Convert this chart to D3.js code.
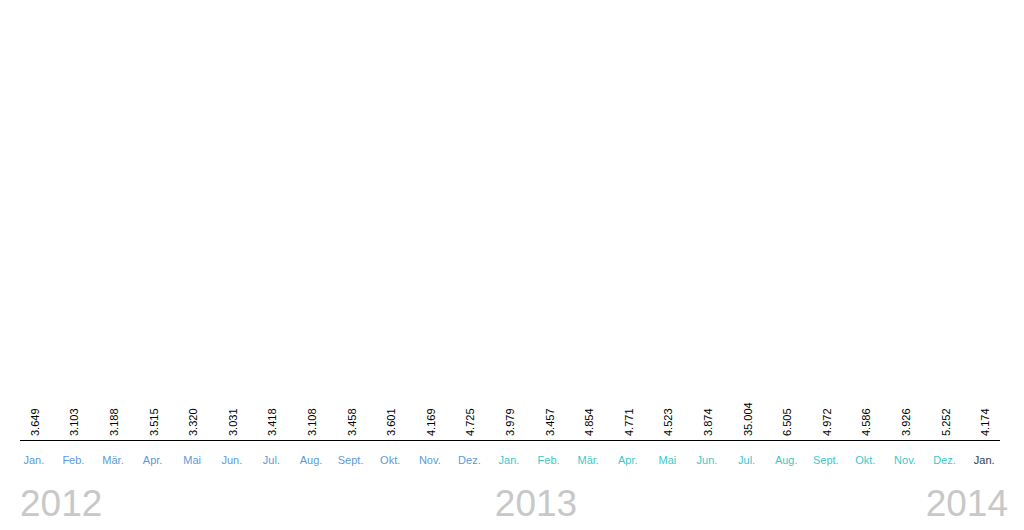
<!DOCTYPE html>
<html>
<head>
<meta charset="utf-8">
<script src="https://cdn.jsdelivr.net/npm/d3@7"></script>
<style>
  body { margin: 0; background: #fff; }
  text { font-family: "Liberation Sans", Arial, sans-serif; }
</style>
</head>
<body>
<div id="chart"></div>
<script>
// months, Jan 2012 .. Jan 2014
var months = ["Jan.", "Feb.", "Mär.", "Apr.", "Mai", "Jun.", "Jul.", "Aug.", "Sept.", "Okt.", "Nov.", "Dez.",
  "Jan.", "Feb.", "Mär.", "Apr.", "Mai", "Jun.", "Jul.", "Aug.", "Sept.", "Okt.", "Nov.", "Dez.", "Jan."];
var monthYears = [2012, 2012, 2012, 2012, 2012, 2012, 2012, 2012, 2012, 2012, 2012, 2012,
  2013, 2013, 2013, 2013, 2013, 2013, 2013, 2013, 2013, 2013, 2013, 2013, 2014];
var values = [3649, 3103, 3188, 3515, 3320, 3031, 3418, 3108, 3458, 3601, 4169, 4725,
  3979, 3457, 4854, 4771, 4523, 3874, 35004, 6505, 4972, 4586, 3926, 5252, 4174];
var years = ["2012", "2013", "2014"];
var yearColors = { 2012: "#5b9bd5", 2013: "#3cc8c8", 2014: "#2c3e50" };

var width = 1024, height = 530;
var svg = d3.select("#chart").append("svg").attr("width", width).attr("height", height);

// german number format: 3.649
var de = d3.formatLocale({ decimal: ",", thousands: ".", grouping: [3], currency: ["", " €"] });
var fmt = de.format(",");

var idx = d3.range(values.length);
var x = d3.scaleBand().domain(idx).range([15, 1005]);
var baseY = 440.5;

// baseline
svg.append("line")
  .attr("x1", 20).attr("x2", 1000)
  .attr("y1", baseY).attr("y2", baseY)
  .attr("stroke", "#000").attr("stroke-width", 1);

// value labels, rotated
svg.append("g").selectAll("text")
  .data(idx)
  .enter().append("text")
  .attr("transform", function (i) {
    return "translate(" + (x(i) + x.bandwidth() / 2 + 4) + "," + (baseY - 4.5) + ") rotate(-90)";
  })
  .attr("font-size", 11)
  .attr("fill", "#000")
  .text(function (i) { return fmt(values[i]); });

// month labels
svg.append("g").selectAll("text")
  .data(idx)
  .enter().append("text")
  .attr("x", function (i) { return x(i) + x.bandwidth() / 2 - 1; })
  .attr("y", 464)
  .attr("text-anchor", "middle")
  .attr("font-size", 11)
  .attr("fill", function (i) { return yearColors[monthYears[i]]; })
  .text(function (i) { return months[i]; });

// year labels
var yearPos = [
  { x: 20, anchor: "start" },
  { x: 536, anchor: "middle" },
  { x: 1008, anchor: "end" }
];
svg.append("g").selectAll("text")
  .data(years)
  .enter().append("text")
  .attr("x", function (d, i) { return yearPos[i].x; })
  .attr("y", 516)
  .attr("text-anchor", function (d, i) { return yearPos[i].anchor; })
  .attr("font-size", 37)
  .attr("fill", "#c8c8c8")
  .text(function (d) { return d; });
</script>
</body>
</html>
